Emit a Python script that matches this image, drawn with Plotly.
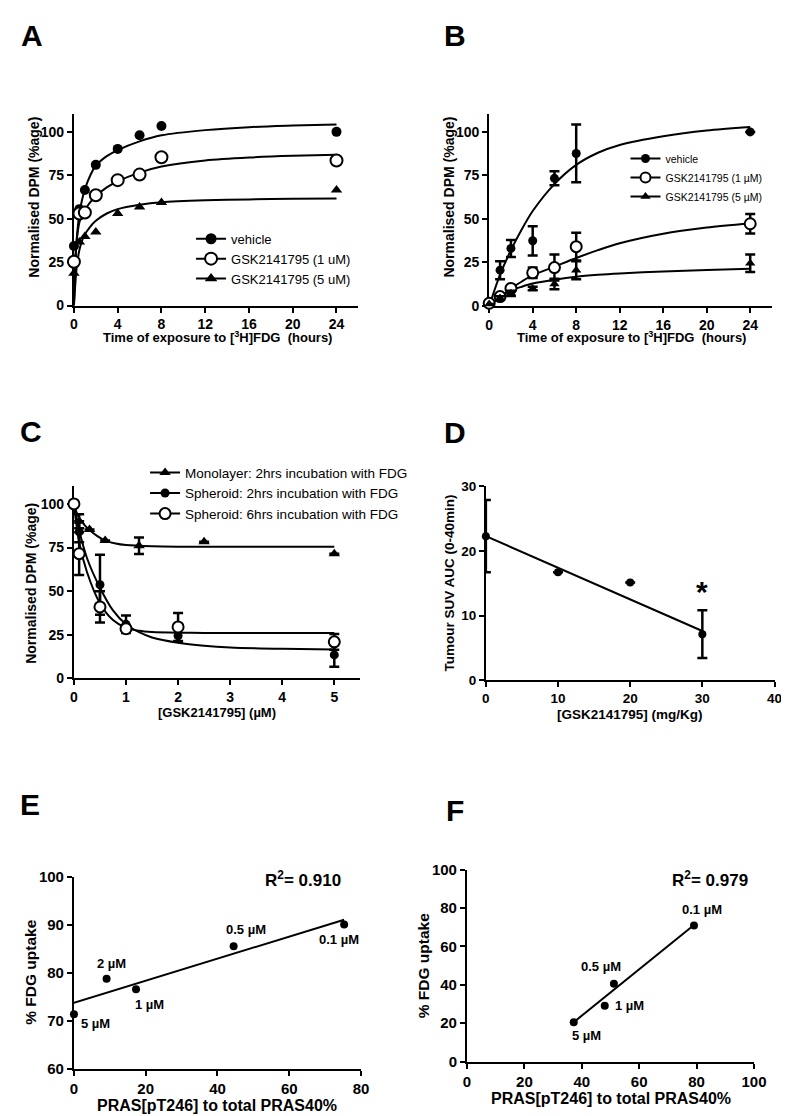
import plotly.graph_objects as go

W, H = 789, 1116
FONT = "Liberation Sans, Arial, Helvetica, sans-serif"

# ---------------- Panel A ----------------
a_time = [0, 0.5, 1, 2, 4, 6, 8, 24]
a_vehicle = [34.3, 55.5, 66.5, 81, 90.2, 98, 103.4, 100]
a_gsk1 = [25.2, 53, 53.6, 63.5, 72.2, 75.4, 85.4, 83.5]
a_gsk5 = [18.6, 36.6, 39.8, 42.3, 53, 56.8, 59.3, 66.5]
a_fit_t = [0, 0.1, 0.25, 0.5, 0.75, 1, 1.5, 2, 3, 4, 6, 8, 12, 16, 20, 24]
a_fit_vehicle = [0, 22, 38, 53, 61, 67, 75, 80.5, 86, 89.5, 94.5, 98, 101, 102.7, 103.6, 104.3]
a_fit_gsk1 = [0, 22, 37, 48, 52, 55, 59.5, 63, 68, 71.5, 76.5, 80, 83.5, 85.2, 86.2, 86.8]
a_fit_gsk5 = [0, 10, 22, 32, 37.5, 41, 45.5, 48.8, 53, 55.5, 58, 59.5, 60.6, 61.1, 61.5, 61.7]
a_names = ["vehicle", "GSK2141795 (1 uM)", "GSK2141795 (5 uM)"]

# ---------------- Panel B ----------------
b_time = [0, 1, 2, 4, 6, 8, 24]
b_vehicle = [2, 20.5, 33, 37.4, 73.3, 87.6, 100]
b_vehicle_err = [0, 5.2, 4.9, 8.4, 4, 16.6, 0]
b_gsk1 = [1.5, 5.3, 10, 19, 22, 34, 47.2]
b_gsk1_err = [0, 1, 1.5, 3, 7.5, 8, 5.6]
b_gsk5 = [1, 4.5, 7.2, 10, 12.5, 20.5, 24.5]
b_gsk5_err = [0, 1, 1.5, 1, 3, 5.2, 5]
b_fit_t = [0, 1, 2, 3, 4, 6, 8, 10, 12, 16, 20, 24]
b_fit_vehicle = [0, 18, 32, 44, 54.5, 70, 81, 88, 92.5, 97.5, 100.8, 102.8]
b_fit_gsk1 = [0, 5, 10, 14, 17.6, 22.5, 27.5, 32, 36, 41.5, 45, 47.5]
b_fit_gsk5 = [0, 5, 8.8, 11, 12.8, 15, 16.7, 17.8, 18.6, 19.8, 20.6, 21.3]
b_names = ["vehicle", "GSK2141795 (1 \u00b5M)", "GSK2141795 (5 \u00b5M)"]

# ---------------- Panel C ----------------
c_conc_mono = [0, 0.1, 0.3, 0.6, 1.25, 2.5, 5]
c_mono = [100, 90, 85.4, 79, 76, 78.3, 71.4]
c_mono_err = [0, 4, 0, 0, 4.7, 0, 0]
c_conc_sph = [0, 0.1, 0.5, 1, 2, 5]
c_sph2 = [100, 84, 53.7, 31, 24.5, 13.5]
c_sph2_err = [0, 6, 17.2, 5, 3.5, 6.8]
c_sph6 = [100, 71.5, 41, 28.5, 29.5, 21]
c_sph6_err = [0, 12.3, 9, 2, 8, 4.5]
c_fit_x_mono = [0, 0.1, 0.2, 0.3, 0.45, 0.6, 0.8, 1, 1.5, 2, 3, 5]
c_fit_mono = [99, 92, 88, 85, 81.5, 79, 77.3, 76.4, 75.7, 75.5, 75.5, 75.5]
c_fit_x = [0, 0.1, 0.25, 0.5, 0.75, 1, 1.25, 1.5, 2, 2.5, 3, 4, 5]
c_fit_sph2 = [100, 85, 69, 52, 39, 31, 26.5, 23.5, 20.5, 18.8, 17.8, 17, 16.6]
c_fit_sph6 = [100, 78, 61, 43, 33.5, 29, 27.3, 26.6, 26.2, 26.1, 26, 26, 26]
c_names = ["Monolayer: 2hrs incubation with FDG",
           "Spheroid: 2hrs incubation with FDG",
           "Spheroid: 6hrs incubation with FDG"]

# ---------------- Panel D ----------------
d_dose = [0, 10, 20, 30]
d_auc = [22.3, 16.7, 15.1, 7.1]
d_err = [5.6, 0, 0, 3.7]
d_fit_x = [0, 30]
d_fit_y = [22.3, 7.6]

# ---------------- Panel E ----------------
e_pras = [0, 9.1, 17.3, 44.5, 75.3]
e_fdg = [71.4, 78.8, 76.6, 85.6, 90.1]
e_labels = ["5 \u00b5M", "2 \u00b5M", "1 \u00b5M", "0.5 \u00b5M", "0.1 \u00b5M"]
e_fit_x = [0, 75.3]
e_fit_y = [73.8, 91.1]

# ---------------- Panel F ----------------
f_pras = [37.2, 48, 51.2, 79.1]
f_fdg = [20.5, 29.1, 40.5, 70.9]
f_labels = ["5 \u00b5M", "1 \u00b5M", "0.5 \u00b5M", "0.1 \u00b5M"]
f_fit_x = [37.2, 79.1]
f_fit_y = [20.5, 71.1]


def px(x):
    return x / W


def py(y):
    return 1 - y / H


FILLED = dict(symbol="circle", color="black")
OPEN = dict(symbol="circle", color="white", line=dict(color="black", width=2))
TRI = dict(symbol="triangle-up", color="black")

fig = go.Figure()


def pts(x, y, ax, marker, size, err=None):
    tr = go.Scatter(x=x, y=y, mode="markers", xaxis="x" + ax, yaxis="y" + ax,
                    marker=dict(size=size, **marker), showlegend=False, cliponaxis=False)
    if err is not None:
        tr.error_y = dict(type="data", array=err, visible=True, color="black",
                          thickness=2.5, width=5)
    fig.add_trace(tr)


def curve(x, y, ax, shape="spline"):
    fig.add_trace(go.Scatter(x=x, y=y, mode="lines", xaxis="x" + ax, yaxis="y" + ax,
                             line=dict(color="black", width=2, shape=shape, smoothing=0.8),
                             showlegend=False, cliponaxis=False, hoverinfo="skip"))


def legend_entry(name, marker, size, legend):
    fig.add_trace(go.Scatter(x=[None], y=[None], mode="lines+markers", name=name,
                             marker=dict(size=size, **marker),
                             line=dict(color="black", width=2), legend=legend))


# A (axis suffix "")
curve(a_fit_t, a_fit_vehicle, "")
curve(a_fit_t, a_fit_gsk1, "")
curve(a_fit_t, a_fit_gsk5, "")
pts(a_time, a_vehicle, "", FILLED, 10)
pts(a_time, a_gsk1, "", OPEN, 12)
pts(a_time, a_gsk5, "", TRI, 10)
legend_entry(a_names[0], FILLED, 11, "legend")
legend_entry(a_names[1], OPEN, 12, "legend")
legend_entry(a_names[2], TRI, 11, "legend")

# B
curve(b_fit_t, b_fit_vehicle, "2")
curve(b_fit_t, b_fit_gsk1, "2")
curve(b_fit_t, b_fit_gsk5, "2")
pts(b_time, b_vehicle, "2", FILLED, 9, b_vehicle_err)
pts(b_time, b_gsk1, "2", OPEN, 11, b_gsk1_err)
pts(b_time, b_gsk5, "2", TRI, 9, b_gsk5_err)
legend_entry(b_names[0], FILLED, 9, "legend2")
legend_entry(b_names[1], OPEN, 10, "legend2")
legend_entry(b_names[2], TRI, 9, "legend2")

# C
curve(c_fit_x_mono, c_fit_mono, "3")
curve(c_fit_x, c_fit_sph2, "3")
curve(c_fit_x, c_fit_sph6, "3")
pts(c_conc_mono, c_mono, "3", TRI, 10, c_mono_err)
pts(c_conc_sph, c_sph2, "3", FILLED, 9, c_sph2_err)
pts(c_conc_sph, c_sph6, "3", OPEN, 11, c_sph6_err)
legend_entry(c_names[0], TRI, 10, "legend3")
legend_entry(c_names[1], FILLED, 9, "legend3")
legend_entry(c_names[2], OPEN, 11, "legend3")

# D
curve(d_fit_x, d_fit_y, "4", shape="linear")
pts(d_dose, d_auc, "4", FILLED, 8, d_err)

# E
curve(e_fit_x, e_fit_y, "5", shape="linear")
pts(e_pras, e_fdg, "5", FILLED, 8)

# F
curve(f_fit_x, f_fit_y, "6", shape="linear")
pts(f_pras, f_fdg, "6", FILLED, 8)


def axis(dom, rng, anchor, size=14, **kw):
    d = dict(domain=dom, range=rng, anchor=anchor, showline=True, linecolor="black",
             linewidth=2, ticks="outside", ticklen=5, tickwidth=2, tickcolor="black",
             showgrid=False, zeroline=False, layer="below traces",
             tickfont=dict(family=FONT, size=size, color="black", weight="bold"))
    d.update(kw)
    return d


layout = dict(
    width=W, height=H, margin=dict(l=0, r=0, t=0, b=0),
    paper_bgcolor="white", plot_bgcolor="white",
    font=dict(family=FONT, color="black"),
    xaxis=axis([px(63.3), px(354)], [0, 26], "y", tickvals=[0, 4, 8, 12, 16, 20, 24]),
    yaxis=axis([py(293), py(99)], [0, 110], "x", tickvals=[0, 25, 50, 75, 100]),
    xaxis2=axis([px(487.7), px(776.7)], [0, 26], "y2", tickvals=[0, 4, 8, 12, 16, 20, 24]),
    yaxis2=axis([py(293.3), py(99)], [0, 110], "x2", tickvals=[0, 25, 50, 75, 100]),
    xaxis3=axis([px(63.3), px(356)], [0, 5.5], "y3", tickvals=[0, 1, 2, 3, 4, 5]),
    yaxis3=axis([py(671.7), py(476.7)], [0, 110], "x3", tickvals=[0, 25, 50, 75, 100]),
    xaxis4=axis([px(484.3), px(779.3)], [0, 40], "y4", size=13.5, tickvals=[0, 10, 20, 30, 40]),
    yaxis4=axis([py(673.3), py(476.7)], [0, 30], "x4", size=13.5, tickvals=[0, 10, 20, 30]),
    xaxis5=axis([px(63.3), px(356.7)], [0, 80], "y5", size=15, tickvals=[0, 20, 40, 60, 80]),
    yaxis5=axis([py(1068.3), py(873.3)], [60, 100], "x5", size=15, tickvals=[60, 70, 80, 90, 100]),
    xaxis6=axis([px(465), px(758.3)], [0, 100], "y6", size=15, tickvals=[0, 20, 40, 60, 80, 100]),
    yaxis6=axis([py(1060.7), py(865.7)], [0, 100], "x6", size=15, tickvals=[0, 20, 40, 60, 80, 100]),
    legend=dict(x=px(183), y=py(210), xanchor="left", yanchor="top",
                bgcolor="rgba(0,0,0,0)", font=dict(family=FONT, size=13, color="black"),
                itemwidth=30, tracegroupgap=0),
    legend2=dict(x=px(627), y=py(129), xanchor="left", yanchor="top",
                 bgcolor="rgba(0,0,0,0)", font=dict(family=FONT, size=10.5, color="black"),
                 itemwidth=30, tracegroupgap=0),
    legend3=dict(x=px(136), y=py(447), xanchor="left", yanchor="top",
                 bgcolor="rgba(0,0,0,0)", font=dict(family=FONT, size=13.5, color="black"),
                 itemwidth=30, tracegroupgap=0),
)

ann = []


def text(x, y, s, size, angle=0, weight="bold"):
    ann.append(dict(x=px(x), y=py(y), xref="paper", yref="paper", text=s, showarrow=False,
                    textangle=angle, xanchor="center", yanchor="middle",
                    font=dict(family=FONT, size=size, color="black", weight=weight)))


# panel letters
for lab, x, y in [("A", 20, 19), ("B", 453, 19), ("C", 19, 421),
                  ("D", 453, 422), ("E", 18, 800), ("F", 453, 806)]:
    text(x, y, lab, 30)

xt_time = "Time of exposure to [<sup>3</sup>H]FDG  (hours)"
text(210, 325, xt_time, 13)
text(633, 325, xt_time, 13)
text(23, 183, "Normalised DPM (%age)", 14, -90)
text(447, 183, "Normalised DPM (%age)", 14, -90)
text(20, 575, "Normalised DPM (%age)", 14, -90)
text(210, 706, "[GSK2141795] (\u00b5M)", 13)
text(447, 575, "Tumour SUV AUC (0-40min)", 13.5, -90)
text(632, 708, "[GSK2141795] (mg/Kg)", 13.5)
text(19, 970, "% FDG uptake", 15.5, -90)
text(210, 1105, "PRAS[pT246] to total PRAS40%", 16)
text(420, 963, "% FDG uptake", 15.5, -90)
text(612, 1098, "PRAS[pT246] to total PRAS40%", 16)
text(297, 875, "R<sup>2</sup>= 0.910", 17)
text(713, 875, "R<sup>2</sup>= 0.979", 17)

# asterisk in D
ann.append(dict(x=30, y=13.7, xref="x4", yref="y4", text="*", showarrow=False,
                font=dict(family=FONT, size=30, color="black", weight="bold"),
                xanchor="center", yanchor="middle"))

# point labels (offsets in px)
e_off = [(5, -9, "left"), (5, 15, "center"), (13, -15, "center"), (12, 17, "center"), (-5, -15, "center")]
for xv, yv, lab, (dx, dy, xa) in zip(e_pras, e_fdg, e_labels, e_off):
    ann.append(dict(x=xv, y=yv, xref="x5", yref="y5", text=lab, showarrow=False,
                    xshift=dx, yshift=dy, xanchor=xa, yanchor="middle",
                    font=dict(family=FONT, size=13, color="black", weight="bold")))
f_off = [(13, -13, "center"), (8, 0, "left"), (-13, 17, "center"), (8, 16, "center")]
for xv, yv, lab, (dx, dy, xa) in zip(f_pras, f_fdg, f_labels, f_off):
    ann.append(dict(x=xv, y=yv, xref="x6", yref="y6", text=lab, showarrow=False,
                    xshift=dx, yshift=dy, xanchor=xa, yanchor="middle",
                    font=dict(family=FONT, size=13, color="black", weight="bold")))

layout["annotations"] = ann
fig.update_layout(**layout)
fig.write_html("out.html")
